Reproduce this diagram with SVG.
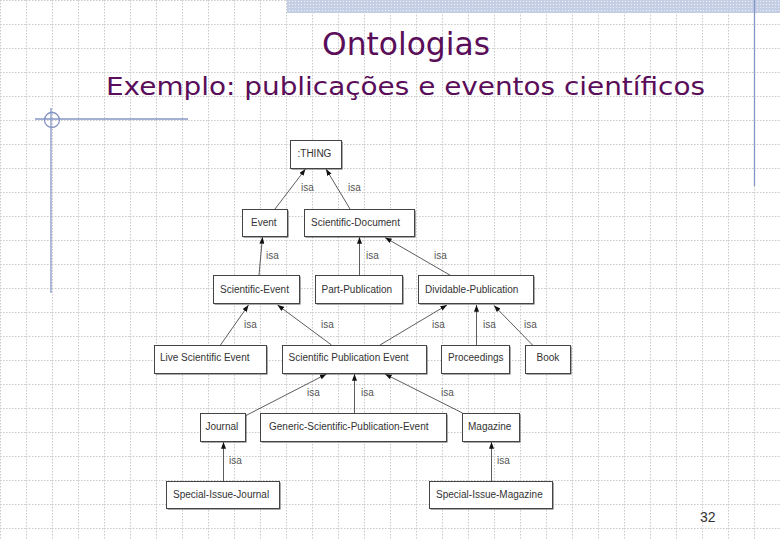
<svg xmlns="http://www.w3.org/2000/svg" width="780" height="540" viewBox="0 0 780 540">
<defs>
<pattern id="grid" width="26" height="24" patternUnits="userSpaceOnUse">
<path d="M0.5 0V24M0 0.5H26" stroke="#c9c9c9" stroke-width="1" stroke-dasharray="1.5 1.5" fill="none"/>
</pattern>
<pattern id="band" width="3" height="3" patternUnits="userSpaceOnUse">
<rect width="3" height="3" fill="#c4cfe6"/>
<rect x="1" y="1" width="1" height="1" fill="#eef1f8"/>
</pattern>
<marker id="ah" viewBox="0 0 8 6" refX="8" refY="3" markerWidth="7" markerHeight="5" markerUnits="userSpaceOnUse" orient="auto">
<path d="M0 0L8 3L0 6Z" fill="#111"/>
</marker>
</defs>
<style>
.title{font-family:"DejaVu Sans","Liberation Sans",sans-serif;fill:#5a0d58}
.box{fill:#fff;stroke:#444;stroke-width:1}
.sh{fill:#555}
.nt{font-family:"Liberation Sans",Arial,sans-serif;font-size:10px;fill:#333}
.lb{font-family:"Liberation Sans",Arial,sans-serif;font-size:10px;fill:#555}
.ed{stroke:#333;stroke-width:0.8;fill:none;marker-end:url(#ah)}
.deco{stroke:#8596c6;stroke-width:1.3;fill:none}
</style>
<rect width="780" height="540" fill="#fff"/>
<rect width="780" height="540" fill="url(#grid)"/>
<rect x="287" y="0" width="493" height="13" fill="url(#band)"/>
<line class="deco" x1="754.5" y1="0" x2="754.5" y2="186"/>
<line class="deco" x1="35" y1="119" x2="188" y2="119"/>
<line class="deco" x1="51" y1="108" x2="51" y2="293"/>
<circle class="deco" cx="52" cy="120" r="7.5" stroke-width="1"/>
<text class="title" x="322" y="55" font-size="32" textLength="168" lengthAdjust="spacingAndGlyphs">Ontologias</text>
<text class="title" x="106" y="95" font-size="25" textLength="599" lengthAdjust="spacingAndGlyphs">Exemplo: publicações e eventos científicos</text>

<g id="connectors">
<line class="ed" x1="275" y1="209" x2="305.5" y2="169"/>
<line class="ed" x1="350" y1="209" x2="326" y2="169"/>
<line class="ed" x1="259" y1="275" x2="262.5" y2="237"/>
<line class="ed" x1="359.5" y1="275" x2="359.5" y2="237"/>
<line class="ed" x1="451.5" y1="276" x2="385" y2="237.5"/>
<line class="ed" x1="220.5" y1="345" x2="248.5" y2="305"/>
<line class="ed" x1="331.5" y1="345" x2="277.5" y2="305"/>
<line class="ed" x1="380" y1="345" x2="447" y2="305"/>
<line class="ed" x1="476.5" y1="345" x2="476.5" y2="305"/>
<line class="ed" x1="532.5" y1="345" x2="494" y2="305.5"/>
<line class="ed" x1="246" y1="415.5" x2="326.5" y2="374"/>
<line class="ed" x1="354.5" y1="413.5" x2="354.5" y2="374"/>
<line class="ed" x1="462.5" y1="413" x2="385" y2="374"/>
<line class="ed" x1="223.5" y1="481.5" x2="223.5" y2="442"/>
<line class="ed" x1="491.5" y1="481.5" x2="491.5" y2="442"/>
<text class="lb" x="301" y="190.5">isa</text>
<text class="lb" x="348" y="190.5">isa</text>
<text class="lb" x="266" y="258.5">isa</text>
<text class="lb" x="366" y="258.5">isa</text>
<text class="lb" x="434" y="258.5">isa</text>
<text class="lb" x="244" y="327.5">isa</text>
<text class="lb" x="321" y="327.5">isa</text>
<text class="lb" x="432" y="327.5">isa</text>
<text class="lb" x="483" y="327.5">isa</text>
<text class="lb" x="524" y="327.5">isa</text>
<text class="lb" x="307" y="395.5">isa</text>
<text class="lb" x="361" y="395.5">isa</text>
<text class="lb" x="441" y="395.5">isa</text>
<text class="lb" x="229" y="463.5">isa</text>
<text class="lb" x="497" y="463.5">isa</text>
</g>

<g id="thing"><rect class="sh" x="291.5" y="141.5" width="51" height="28"/><rect class="box" x="290.5" y="140.5" width="51" height="28"/><text class="nt" x="297.5" y="157">:THING</text></g>
<g id="event"><rect class="sh" x="243.5" y="210.5" width="45" height="27"/><rect class="box" x="242.5" y="209.5" width="45" height="27"/><text class="nt" x="251" y="225.5">Event</text></g>
<g id="scientific-document"><rect class="sh" x="305.5" y="210.5" width="110" height="27"/><rect class="box" x="304.5" y="209.5" width="110" height="27"/><text class="nt" x="311" y="225.5">Scientific-Document</text></g>
<g id="scientific-event"><rect class="sh" x="214.5" y="276.5" width="86" height="28"/><rect class="box" x="213.5" y="275.5" width="86" height="28"/><text class="nt" x="220" y="292.5">Scientific-Event</text></g>
<g id="part-publication"><rect class="sh" x="316.5" y="276.5" width="87" height="28"/><rect class="box" x="315.5" y="275.5" width="87" height="28"/><text class="nt" x="321.5" y="292.5">Part-Publication</text></g>
<g id="dividable-publication"><rect class="sh" x="419.5" y="276.5" width="115" height="28"/><rect class="box" x="418.5" y="275.5" width="115" height="28"/><text class="nt" x="425" y="292.5">Dividable-Publication</text></g>
<g id="live-scientific-event"><rect class="sh" x="155.5" y="346.5" width="112" height="28"/><rect class="box" x="154.5" y="345.5" width="112" height="28"/><text class="nt" x="160" y="361">Live Scientific Event</text></g>
<g id="scientific-publication-event"><rect class="sh" x="283.5" y="346.5" width="144" height="28"/><rect class="box" x="282.5" y="345.5" width="144" height="28"/><text class="nt" x="288.5" y="361">Scientific Publication Event</text></g>
<g id="proceedings"><rect class="sh" x="442.5" y="346.5" width="68" height="28"/><rect class="box" x="441.5" y="345.5" width="68" height="28"/><text class="nt" x="448" y="361">Proceedings</text></g>
<g id="book"><rect class="sh" x="526.5" y="346.5" width="45" height="28"/><rect class="box" x="525.5" y="345.5" width="45" height="28"/><text class="nt" x="536.5" y="361">Book</text></g>
<g id="journal"><rect class="sh" x="201.5" y="414.5" width="45" height="28"/><rect class="box" x="200.5" y="413.5" width="45" height="28"/><text class="nt" x="205.5" y="430">Journal</text></g>
<g id="generic-scientific-publication-event"><rect class="sh" x="261.5" y="414.5" width="186" height="28"/><rect class="box" x="260.5" y="413.5" width="186" height="28"/><text class="nt" x="269" y="430">Generic-Scientific-Publication-Event</text></g>
<g id="magazine"><rect class="sh" x="463.5" y="414.5" width="57" height="28"/><rect class="box" x="462.5" y="413.5" width="57" height="28"/><text class="nt" x="468" y="430">Magazine</text></g>
<g id="special-issue-journal"><rect class="sh" x="167.5" y="482.5" width="113" height="27"/><rect class="box" x="166.5" y="481.5" width="113" height="27"/><text class="nt" x="173" y="498">Special-Issue-Journal</text></g>
<g id="special-issue-magazine"><rect class="sh" x="430.5" y="482.5" width="123" height="27"/><rect class="box" x="429.5" y="481.5" width="123" height="27"/><text class="nt" x="436" y="498">Special-Issue-Magazine</text></g>

<text x="700" y="522" font-family="Liberation Sans, Arial, sans-serif" font-size="14" fill="#333">32</text>
</svg>
